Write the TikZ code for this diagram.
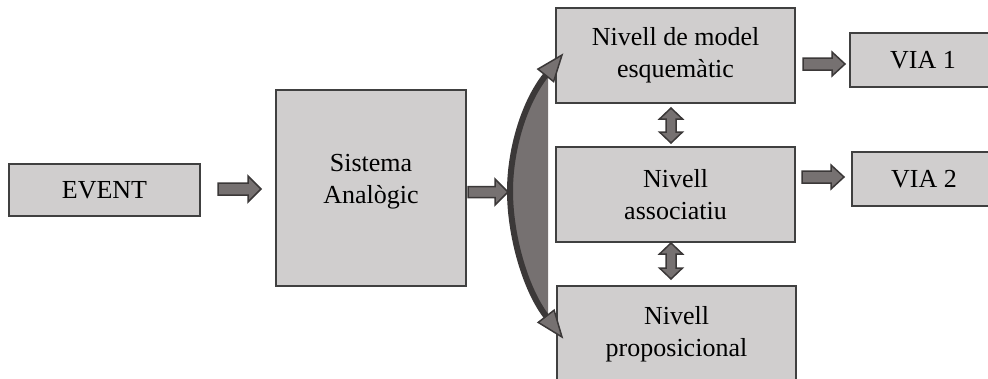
\documentclass[tikz,border=0pt]{standalone}
\usepackage{fontspec}
\setmainfont{Liberation Serif}
\usetikzlibrary{calc}
\definecolor{boxfill}{HTML}{D0CECE}
\definecolor{boxline}{HTML}{404040}
\definecolor{arrfill}{HTML}{767171}
\definecolor{arrline}{HTML}{3B3838}
% horizontal block arrow: x start, x tip, y, half shaft, half head
\newcommand{\hblockarrow}[5]{%
  \draw[blockarrow] (#1,#3-#4) -- (#2-13,#3-#4) -- (#2-13,#3-#5) -- (#2,#3)
    -- (#2-13,#3+#5) -- (#2-13,#3+#4) -- (#1,#3+#4) -- cycle;}
% vertical double block arrow: x, y top tip, y bottom tip, half shaft, half head
\newcommand{\vblockarrow}[5]{%
  \draw[blockarrow] (#1,#2) -- (#1+#5,#2+11) -- (#1+#4,#2+11) -- (#1+#4,#3-11)
    -- (#1+#5,#3-11) -- (#1,#3) -- (#1-#5,#3-11) -- (#1-#4,#3-11)
    -- (#1-#4,#2+11) -- (#1-#5,#2+11) -- cycle;}
\begin{document}
\begin{tikzpicture}[x=1pt,y=-1pt,
  box/.style={draw=boxline, fill=boxfill, line width=2pt, inner sep=0pt, align=center, font=\fontsize{26}{32}\selectfont},
  boxtext/.style={inner sep=0pt, align=center, font=\fontsize{26}{32}\selectfont},
  blockarrow/.style={draw=arrline, fill=arrfill, line width=1.5pt, line join=miter},
  bracket/.style={draw=arrline, line width=6pt},
  bhead/.style={draw=arrline, fill=arrfill, line width=1.5pt, line join=miter}]
\useasboundingbox (0,0) rectangle (988,378);
\clip (0,0) rectangle (988,378);

% boxes
\node[box, minimum width=191pt, minimum height=52pt] (event) at (104.5,190) {EVENT};
\node[box, minimum width=190pt, minimum height=196pt] (sys) at (371,188) {};
\node[boxtext] (systext) at ($(sys.center)+(0,-6)$) {Sistema\\Analògic};
\node[box, minimum width=239pt, minimum height=95pt] (model) at (675.5,55.5) {Nivell de model\\esquemàtic};
\node[box, minimum width=239pt, minimum height=95pt] (assoc) at (675.5,194.5) {Nivell\\associatiu};
\node[box, minimum width=239pt, minimum height=96pt] (prop) at (676.5,334) {Nivell\\proposicional};
\node[box, minimum width=146pt, minimum height=54pt] (via1) at (923,60) {VIA 1};
\node[box, minimum width=144pt, minimum height=54pt] (via2) at (924,179) {VIA 2};

% block arrows
\hblockarrow{218}{261}{189}{6}{13}
\hblockarrow{468}{508}{192}{5.5}{13}
\hblockarrow{803}{845}{64}{6}{12}
\hblockarrow{802}{844}{177}{6}{12}
\vblockarrow{671}{108}{143}{5}{11.5}
\vblockarrow{671}{243}{279}{5}{11.5}

% curved bracket
\coordinate (bt) at (545.75,75.3);
\coordinate (bapex) at (510,191);
\coordinate (bb) at (546.2,316.3);
\fill[arrfill] (bt) .. controls (523.9,102.6) and (510,150) .. (bapex)
    .. controls (510,235) and (525,288.5) .. (bb) -- (548,316.3) -- (548,75.3) -- cycle;
\draw[bracket] (bt) .. controls (523.9,102.6) and (510,150) .. (bapex)
    .. controls (510,235) and (525,288.5) .. (bb);
\draw[bhead] (562,55) -- (553.6,81.6) -- (537.9,69.1) -- cycle;
\draw[bhead] (562,337) -- (554.1,310.2) -- (538.2,322.4) -- cycle;
\end{tikzpicture}
\end{document}
